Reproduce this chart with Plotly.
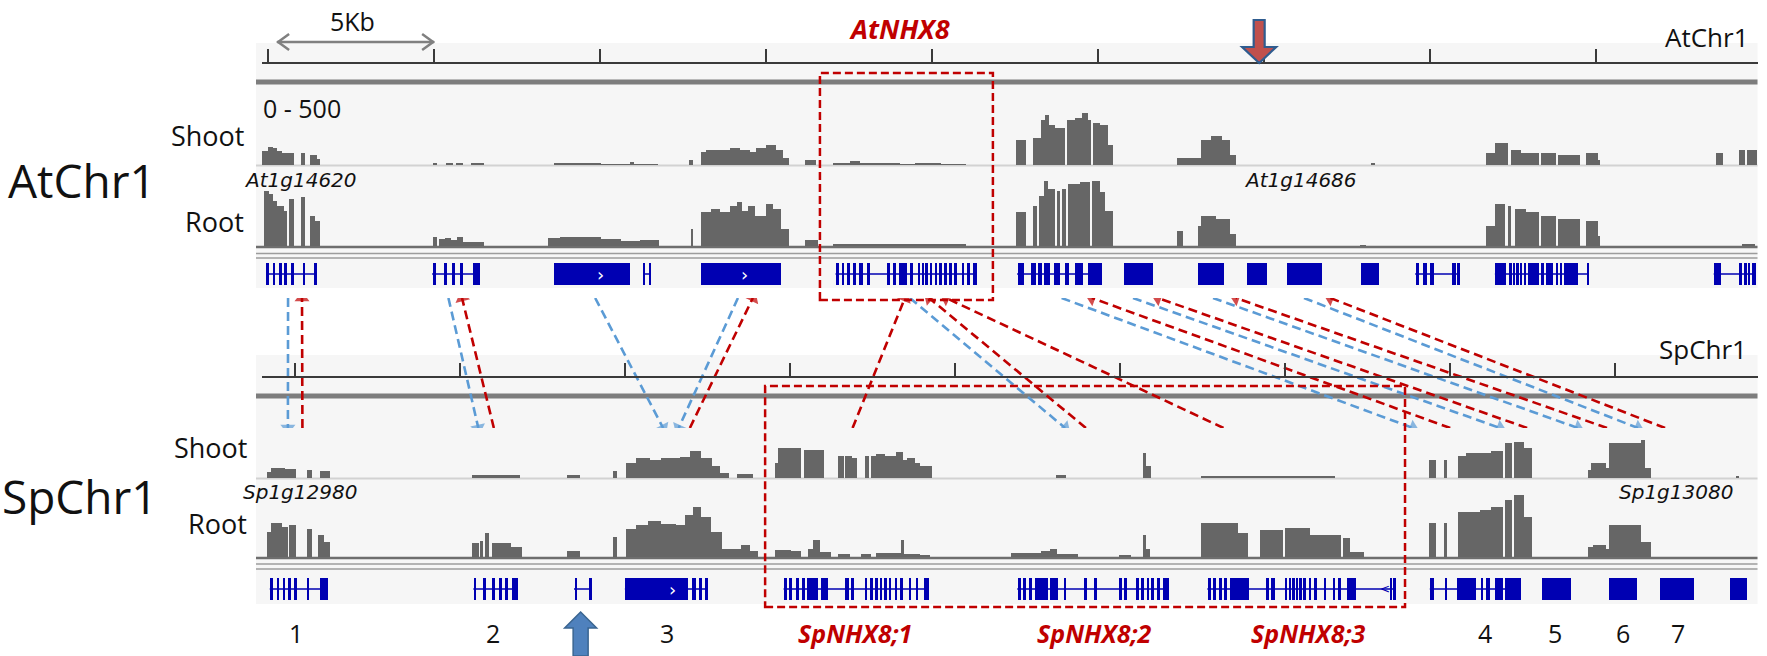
import plotly.graph_objects as go

W, H = 1767, 656

# ------------------------------------------------------------------ data
AT_SPAN = 45.06      # kb shown in the AtChr1 window
SP_SPAN = 45.33      # kb shown in the SpChr1 window
AT_TICK0 = 0.19
SP_TICK0 = 1.0
TICK_STEP = 5.0

# coverage (start kb, end kb, reads; scale 0-500)
at_shoot_cov = [
    (0.00, 0.17, 100), (0.17, 0.32, 130), (0.32, 0.44, 120), (0.44, 0.59, 100), (0.59, 0.77, 85), (0.77, 0.95, 90),
    (1.16, 1.31, 85), (1.46, 1.66, 75), (1.66, 1.76, 45),
    (5.14, 5.26, 20), (5.53, 5.74, 15), (5.83, 6.04, 20), (6.28, 6.70, 14),
    (8.78, 10.20, 14), (9.23, 9.41, 20), (10.20, 11.92, 12), (11.07, 11.19, 25),
    (12.85, 12.97, 40),
    (13.21, 13.36, 95), (13.36, 13.81, 110), (13.81, 14.11, 105), (14.11, 14.41, 120), (14.41, 14.71, 110),
    (14.71, 14.89, 95), (14.89, 15.17, 120), (15.17, 15.47, 140), (15.47, 15.68, 110), (15.68, 15.86, 55),
    (16.37, 16.70, 35),
    (17.21, 17.72, 20), (17.72, 18.02, 28), (18.02, 18.63, 14), (18.63, 19.23, 20), (19.23, 19.68, 12),
    (19.68, 20.44, 18), (20.44, 21.19, 12),
    (22.70, 23.00, 175),
    (23.21, 23.45, 195), (23.45, 23.57, 315), (23.57, 23.69, 350), (23.69, 23.90, 280), (23.90, 24.20, 265),
    (24.26, 24.50, 315), (24.50, 24.71, 335), (24.71, 24.89, 365), (24.89, 24.98, 320), (25.04, 25.25, 295),
    (25.25, 25.49, 280), (25.49, 25.64, 140),
    (27.55, 28.27, 55), (28.27, 28.57, 180), (28.57, 28.93, 205), (28.93, 29.17, 175), (29.17, 29.35, 70),
    (33.39, 33.51, 14),
    (36.88, 37.15, 85), (37.15, 37.52, 155), (37.61, 37.91, 105), (37.91, 38.45, 90), (38.51, 38.99, 85),
    (39.05, 39.71, 75), (39.89, 40.25, 90), (40.25, 40.31, 40),
    (43.78, 44.02, 90), (44.50, 44.68, 105), (44.74, 45.04, 110),
]
at_root_cov = [
    (0.05, 0.20, 390), (0.20, 0.32, 365), (0.32, 0.44, 320), (0.44, 0.65, 280), (0.65, 0.74, 245),
    (0.80, 0.95, 335), (1.16, 1.28, 345), (1.46, 1.61, 215), (1.61, 1.76, 175),
    (5.14, 5.26, 63), (5.32, 5.50, 50), (5.50, 5.68, 56), (5.68, 5.86, 42), (5.86, 6.04, 63), (6.04, 6.70, 28),
    (8.60, 8.99, 56), (8.99, 10.20, 63), (10.20, 10.80, 49), (10.80, 11.40, 35), (11.40, 11.97, 42),
    (12.91, 12.97, 120),
    (13.21, 13.51, 240), (13.51, 13.81, 260), (13.81, 14.11, 240), (14.11, 14.32, 280), (14.32, 14.47, 310),
    (14.47, 14.65, 245), (14.65, 14.86, 280), (14.86, 15.17, 210), (15.17, 15.38, 295), (15.38, 15.62, 265),
    (15.62, 15.86, 125),
    (16.37, 16.76, 42),
    (17.21, 21.19, 20),
    (22.70, 23.00, 240), (23.21, 23.33, 280), (23.39, 23.54, 350), (23.54, 23.66, 460), (23.66, 23.90, 405),
    (23.96, 24.05, 385), (24.11, 24.23, 405), (24.29, 24.65, 440), (24.65, 24.95, 450), (25.01, 25.25, 455),
    (25.25, 25.40, 380), (25.40, 25.64, 245),
    (27.55, 27.73, 105), (28.18, 28.27, 140), (28.27, 28.72, 210), (28.72, 29.17, 195), (29.17, 29.35, 85),
    (33.06, 33.24, 7),
    (36.88, 37.15, 140), (37.15, 37.45, 300), (37.52, 37.61, 285), (37.73, 38.06, 265), (38.06, 38.45, 240),
    (38.51, 38.99, 215), (39.05, 39.71, 195), (39.89, 40.25, 180), (40.25, 40.31, 70),
    (44.59, 44.98, 14),
]
sp_shoot_cov = [
    (0.14, 0.26, 42), (0.26, 0.71, 70), (0.71, 1.02, 63), (1.35, 1.53, 56), (1.77, 2.05, 49),
    (6.35, 7.83, 21),
    (9.23, 9.65, 21),
    (10.65, 10.77, 49),
    (11.02, 11.32, 105), (11.32, 11.77, 140), (11.77, 12.08, 126), (12.08, 12.68, 140), (12.68, 12.98, 147),
    (12.98, 13.29, 190), (13.29, 13.65, 140), (13.65, 13.89, 84), (13.89, 14.14, 35),
    (14.38, 14.89, 28),
    (15.53, 15.65, 105), (15.65, 16.32, 210), (16.41, 17.02, 196), (17.44, 17.62, 154), (17.68, 17.89, 154),
    (17.89, 18.02, 140), (18.26, 18.38, 154), (18.44, 18.59, 154), (18.59, 18.89, 168), (18.89, 19.20, 154),
    (19.20, 19.41, 182), (19.41, 19.53, 126), (19.53, 19.80, 140), (19.80, 19.95, 105), (19.95, 20.29, 84),
    (24.05, 24.35, 21),
    (26.71, 26.80, 175), (26.80, 26.95, 84),
    (28.44, 32.50, 14),
    (35.35, 35.56, 126), (35.83, 35.92, 126), (36.23, 36.47, 154), (36.47, 37.23, 175), (37.23, 37.59, 190),
    (37.65, 37.89, 245), (37.95, 38.23, 252), (38.23, 38.47, 210),
    (40.17, 40.26, 56), (40.26, 40.71, 105), (40.71, 40.83, 70), (40.83, 41.77, 245), (41.77, 41.92, 266),
    (41.92, 42.08, 70),
    (44.65, 44.74, 14),
]
sp_root_cov = [
    (0.14, 0.26, 175), (0.26, 0.62, 238), (0.62, 0.80, 210), (0.83, 1.02, 224), (1.35, 1.50, 196),
    (1.71, 1.89, 154), (1.89, 2.05, 105),
    (6.35, 6.56, 98), (6.62, 6.71, 112), (6.77, 6.89, 168), (6.98, 7.11, 98), (7.11, 7.53, 98), (7.53, 7.89, 70),
    (9.23, 9.65, 42),
    (10.65, 10.77, 140),
    (11.02, 11.32, 196), (11.32, 11.71, 224), (11.71, 12.08, 252), (12.08, 12.53, 231), (12.53, 12.83, 224),
    (12.83, 13.05, 300), (13.05, 13.29, 350), (13.29, 13.59, 280), (13.59, 13.95, 175), (13.95, 14.50, 56),
    (14.50, 14.80, 84), (14.80, 15.02, 42),
    (15.53, 16.02, 49), (16.02, 16.32, 42), (16.53, 16.71, 56), (16.71, 16.92, 119), (16.92, 17.23, 35),
    (17.44, 17.83, 21), (18.14, 18.44, 21), (18.59, 19.35, 28), (19.35, 19.44, 119), (19.44, 19.95, 21),
    (19.95, 20.23, 14),
    (22.71, 23.59, 28), (23.59, 23.89, 42), (23.89, 24.08, 56), (24.08, 24.74, 21),
    (25.98, 26.32, 14), (26.71, 26.80, 160), (26.80, 26.92, 56),
    (28.44, 29.56, 238), (29.56, 29.89, 168), (30.23, 30.95, 189), (31.01, 31.74, 203), (31.74, 32.68, 154),
    (32.77, 32.98, 133), (32.98, 33.38, 35),
    (35.35, 35.56, 238), (35.83, 35.92, 238), (36.23, 36.92, 315), (36.92, 37.23, 330), (37.23, 37.59, 350),
    (37.65, 37.89, 400), (37.95, 38.23, 434), (38.23, 38.47, 280),
    (40.17, 40.32, 70), (40.32, 40.71, 84), (40.71, 40.83, 56), (40.83, 41.77, 224), (41.77, 42.08, 105),
]

# gene models: list of exons (start kb, end kb) per gene
at_genes = [
    [(0.14, 0.20), (0.32, 0.38), (0.50, 0.59), (0.68, 0.74), (0.89, 0.95), (1.22, 1.28), (1.58, 1.67)],
    [(5.14, 5.23), (5.50, 5.56), (5.74, 5.80), (5.95, 6.04), (6.37, 6.58)],
    [(8.78, 11.07)],
    [(11.49, 11.55), (11.67, 11.73)],
    [(13.21, 15.62)],
    [(17.29, 17.37), (17.46, 17.54), (17.63, 17.71), (17.80, 17.89), (17.98, 18.09), (18.21, 18.32),
     (18.84, 18.92), (19.01, 19.09), (19.19, 19.42), (19.53, 19.60), (19.76, 19.82), (19.88, 19.94),
     (19.99, 20.05), (20.11, 20.19), (20.28, 20.34), (20.42, 20.48), (20.57, 20.63), (20.71, 20.77),
     (20.86, 20.92), (21.09, 21.15), (21.26, 21.32), (21.43, 21.55)],
    [(22.76, 22.94), (23.16, 23.30), (23.36, 23.50), (23.55, 23.74), (23.86, 24.03), (24.20, 24.32),
     (24.49, 24.72), (24.89, 25.30)],
    [(25.96, 26.85)],
    [(28.18, 28.98)],
    [(29.68, 30.28)],
    [(30.88, 31.92)],
    [(33.09, 33.64)],
    [(34.75, 34.86), (34.97, 35.08), (35.19, 35.30), (35.84, 35.95), (36.00, 36.09)],
    [(37.15, 37.47), (37.58, 37.64), (37.69, 37.74), (37.80, 37.86), (37.91, 37.96), (38.02, 38.07),
     (38.13, 38.45), (38.51, 38.62), (38.67, 38.89), (39.00, 39.05), (39.11, 39.16), (39.22, 39.65),
     (39.92, 39.98)],
    [(43.74, 43.95), (44.50, 44.58), (44.66, 44.72), (44.77, 44.83), (44.88, 44.99)],
]
sp_genes = [
    [(0.25, 0.33), (0.45, 0.52), (0.63, 0.70), (0.80, 0.87), (0.98, 1.05), (1.35, 1.42), (1.76, 1.99)],
    [(6.42, 6.49), (6.71, 6.78), (6.98, 7.06), (7.18, 7.27), (7.36, 7.45), (7.56, 7.75)],
    [(9.47, 9.55), (9.92, 9.99)],
    [(11.01, 12.92), (13.04, 13.16), (13.25, 13.33), (13.41, 13.51)],
    [(15.82, 15.90), (15.98, 16.05), (16.20, 16.26), (16.37, 16.44), (16.52, 16.86), (16.93, 17.16),
     (17.68, 17.78), (17.85, 17.93), (18.26, 18.34), (18.43, 18.51), (18.58, 18.65), (18.72, 18.79),
     (18.86, 18.93), (19.01, 19.07), (19.18, 19.25), (19.34, 19.42), (19.59, 19.67), (19.82, 19.88),
     (20.06, 20.21)],
    [(22.90, 22.99), (23.07, 23.16), (23.25, 23.34), (23.42, 23.83), (23.89, 24.11), (24.29, 24.36),
     (24.93, 24.99), (25.22, 25.29), (25.97, 26.05), (26.12, 26.20), (26.49, 26.58), (26.66, 26.72),
     (26.81, 26.88), (26.95, 27.03), (27.13, 27.21), (27.30, 27.48)],
    [(28.66, 28.75), (28.82, 28.90), (28.99, 29.08), (29.15, 29.23), (29.32, 29.92), (30.41, 30.50),
     (30.58, 30.68), (31.02, 31.07), (31.12, 31.18), (31.23, 31.29), (31.34, 31.40), (31.45, 31.51),
     (31.56, 31.62), (31.73, 31.78), (31.89, 31.97), (32.17, 32.24), (32.44, 32.52), (32.60, 32.68),
     (32.88, 33.15), (34.19, 34.24), (34.30, 34.36)],
    [(35.40, 35.51), (35.84, 35.92), (36.22, 36.77), (36.93, 37.01), (37.10, 37.21), (37.37, 37.60),
     (37.66, 38.14)],
    [(38.80, 39.67)],
    [(40.82, 41.65)],
    [(42.36, 43.40)],
    [(44.49, 44.99)],
]
at_chevrons = [10.20, 14.56]
sp_chevrons = [12.46]
sp_strand_marks = [34.05]

# synteny links: blue = At -> Sp (At kb, Sp kb), red = Sp -> At (Sp kb, At kb)
blue_links = [(0.80, 0.80), (5.63, 6.57), (10.05, 12.17), (14.35, 12.64), (19.53, 24.35),
              (24.10, 34.89), (26.25, 37.53), (28.66, 39.89), (31.40, 41.71)]
red_links = [(1.24, 1.22), (7.04, 6.04), (12.98, 14.80), (17.91, 19.38), (24.98, 20.11),
             (29.15, 20.62), (36.02, 25.01), (38.35, 27.00), (40.77, 29.35), (42.53, 32.19)]

# labels
sp_gene_numbers = ["1", "2", "3", "4", "5", "6", "7"]
sp_gene_number_pos = [1.05, 7.02, 12.29, 37.08, 39.20, 41.26, 42.93]
sp_nhx_names = ["SpNHX8;1", "SpNHX8;2", "SpNHX8;3"]
sp_nhx_pos = [17.98, 25.23, 31.71]
at_nhx_name, at_nhx_pos = "AtNHX8", 19.23
at_gene_ids = ["At1g14620", "At1g14686"]
at_gene_id_pos = [1.16, 31.28]
sp_gene_ids = ["Sp1g12980", "Sp1g13080"]
sp_gene_id_pos = [1.17, 42.86]
at_box = (16.82, 22.03)
sp_box = (15.26, 34.65)
at_marker_pos = 30.05
sp_marker_pos = 9.67
scale_bar = (0.47, 5.20)
scale_label = "5Kb"
track_range = "0 - 500"

# ------------------------------------------------------------------ styles / geometry (pixels)
GRAY = "#666666"
GENE = "#0000B2"
RED = "#C00000"
BLUE = "#5B9BD5"
TXT = "#111111"
LABEL_FONT = "Open Sans"
ID_FONT = "DejaVu Sans"

X_L, X_R = 261.5, 1757.5
PANEL_L = 256


def fx(px):
    return px / W


def fy(py):
    return 1 - py / H


XDOM = [fx(X_L), fx(X_R)]
TRACK_PX = 71.4

fig = go.Figure()


def cov_trace(cov, xa, ya):
    return go.Bar(
        x=[(s + e) / 2 for s, e, v in cov], y=[v for s, e, v in cov], width=[e - s for s, e, v in cov],
        marker=dict(color=GRAY, line=dict(width=0)), xaxis=xa, yaxis=ya,
        showlegend=False, hoverinfo="skip")


def gene_traces(genes, xa, ya):
    ex = [ex for g in genes for ex in g]
    bars = go.Bar(
        x=[(s + e) / 2 for s, e in ex], y=[1] * len(ex), width=[e - s for s, e in ex], base=0,
        marker=dict(color=GENE, line=dict(width=0)), xaxis=xa, yaxis=ya, showlegend=False, hoverinfo="skip")
    lx, ly = [], []
    for g in genes:
        if len(g) > 1:
            lx += [g[0][0], g[-1][1], None]
            ly += [0.5, 0.5, None]
    line = go.Scatter(x=lx, y=ly, mode="lines", line=dict(color=GENE, width=1.6),
                      xaxis=xa, yaxis=ya, showlegend=False, hoverinfo="skip")
    return [line, bars]


fig.add_trace(cov_trace(at_shoot_cov, "x", "y"))
fig.add_trace(cov_trace(at_root_cov, "x", "y2"))
for t in gene_traces(at_genes, "x", "y3"):
    fig.add_trace(t)
fig.add_trace(cov_trace(sp_shoot_cov, "x2", "y4"))
fig.add_trace(cov_trace(sp_root_cov, "x2", "y5"))
for t in gene_traces(sp_genes, "x2", "y6"):
    fig.add_trace(t)

# rulers need a subplot to be drawn
fig.add_trace(go.Scatter(x=[None], y=[None], xaxis="x4", yaxis="y7", showlegend=False))
fig.add_trace(go.Scatter(x=[None], y=[None], xaxis="x5", yaxis="y7", showlegend=False))

# synteny arrows (connector panel: y=1 At side, y=0 Sp side)
for at_kb, sp_kb in blue_links:
    fig.add_trace(go.Scatter(
        x=[at_kb / AT_SPAN, sp_kb / SP_SPAN], y=[1, 0], mode="lines+markers",
        line=dict(color=BLUE, width=2.6, dash="9px,5px"),
        marker=dict(symbol="triangle-up", size=[0, 13], color=BLUE, angleref="previous", line=dict(width=0)),
        xaxis="x3", yaxis="y7", showlegend=False, hoverinfo="skip"))
for sp_kb, at_kb in red_links:
    fig.add_trace(go.Scatter(
        x=[sp_kb / SP_SPAN, at_kb / AT_SPAN], y=[0, 1], mode="lines+markers",
        line=dict(color=RED, width=2.6, dash="9px,5px"),
        marker=dict(symbol="triangle-up", size=[0, 13], color=RED, angleref="previous", line=dict(width=0)),
        xaxis="x3", yaxis="y7", showlegend=False, hoverinfo="skip"))

hidden = dict(visible=False, showgrid=False, zeroline=False, fixedrange=True)


def ydom(bottom_px, top_px):
    return [fy(bottom_px), fy(top_px)]


ruler = dict(showline=True, linecolor="#3a3a3a", linewidth=2, ticks="outside", ticklen=13, tickwidth=1.5,
             tickcolor="#3a3a3a", showticklabels=False, showgrid=False, zeroline=False, side="top",
             anchor="free", dtick=TICK_STEP, tickmode="linear")

fig.update_layout(
    width=W, height=H, margin=dict(l=0, r=0, t=0, b=0),
    paper_bgcolor="white", plot_bgcolor="rgba(0,0,0,0)",
    barmode="overlay", bargap=0, showlegend=False,
    xaxis=dict(domain=XDOM, range=[0, AT_SPAN], anchor="y", **hidden),
    xaxis2=dict(domain=XDOM, range=[0, SP_SPAN], anchor="y4", **hidden),
    xaxis3=dict(domain=XDOM, range=[0, 1], anchor="y7", **hidden),
    xaxis4=dict(domain=XDOM, range=[0, AT_SPAN], position=fy(63), tick0=AT_TICK0, **ruler),
    xaxis5=dict(domain=XDOM, range=[0, SP_SPAN], position=fy(377), tick0=SP_TICK0, **ruler),
    yaxis=dict(domain=ydom(165, 165 - TRACK_PX), range=[0, 500], anchor="x", **hidden),
    yaxis2=dict(domain=ydom(246, 246 - TRACK_PX), range=[0, 500], anchor="x", **hidden),
    yaxis3=dict(domain=ydom(285, 263), range=[0, 1], anchor="x", **hidden),
    yaxis4=dict(domain=ydom(478, 478 - TRACK_PX), range=[0, 500], anchor="x2", **hidden),
    yaxis5=dict(domain=ydom(557, 557 - TRACK_PX), range=[0, 500], anchor="x2", **hidden),
    yaxis6=dict(domain=ydom(600, 578), range=[0, 1], anchor="x2", **hidden),
    yaxis7=dict(domain=ydom(428, 298), range=[0, 1], anchor="x3", **hidden),
)

shapes = []


def hline(y, color, width, x0=PANEL_L, x1=X_R):
    shapes.append(dict(type="line", xref="paper", yref="paper", x0=fx(x0), x1=fx(x1), y0=fy(y), y1=fy(y),
                       line=dict(color=color, width=width), layer="below"))


# panel backgrounds
for top, bot in [(43, 288), (355, 604)]:
    shapes.append(dict(type="rect", xref="paper", yref="paper", x0=fx(PANEL_L), x1=fx(X_R), y0=fy(bot), y1=fy(top),
                       fillcolor="#F6F6F6", line=dict(width=0), layer="below"))
# track separators
hline(82, "#7D7D7D", 5)
hline(165.5, "#D2D2D2", 2)
hline(247, "#6E6E6E", 2.5)
hline(253.5, "#9C9C9C", 1.5)
hline(258, "#9C9C9C", 1.5)
hline(396, "#7D7D7D", 5)
hline(478.5, "#D2D2D2", 2)
hline(558, "#6E6E6E", 2.5)
hline(564, "#9C9C9C", 1.5)
hline(569, "#9C9C9C", 1.5)

# red dashed boxes
shapes.append(dict(type="rect", xref="x", yref="paper", x0=at_box[0], x1=at_box[1], y0=fy(300), y1=fy(73),
                   line=dict(color=RED, width=2.5, dash="8px,4px"), fillcolor="rgba(0,0,0,0)", layer="above"))
shapes.append(dict(type="rect", xref="x2", yref="paper", x0=sp_box[0], x1=sp_box[1], y0=fy(607), y1=fy(386),
                   line=dict(color=RED, width=2.5, dash="8px,4px"), fillcolor="rgba(0,0,0,0)", layer="above"))

# scale bar (5Kb double arrow)
shapes.append(dict(type="line", xref="x", yref="paper", x0=scale_bar[0], x1=scale_bar[1], y0=fy(42), y1=fy(42),
                   line=dict(color="#808080", width=2.5)))
shapes.append(dict(type="path", xref="x", yref="paper", xsizemode="pixel", ysizemode="pixel",
                   xanchor=scale_bar[0], yanchor=fy(42), path="M 12,8 L 1,0 L 12,-8",
                   line=dict(color="#808080", width=2.5)))
shapes.append(dict(type="path", xref="x", yref="paper", xsizemode="pixel", ysizemode="pixel",
                   xanchor=scale_bar[1], yanchor=fy(42), path="M -12,8 L -1,0 L -12,-8",
                   line=dict(color="#808080", width=2.5)))


# block arrows marking positions (x in pixels around the genomic anchor, y in paper units)
def block_arrow(xref, anchor, tip, head_end, tail, head_w, shaft_w):
    pts = [(0, tip), (-head_w, head_end), (-shaft_w, head_end), (-shaft_w, tail), (shaft_w, tail),
           (shaft_w, head_end), (head_w, head_end)]
    return "M " + " L ".join(f"{px},{fy(py):.5f}" for px, py in pts) + " Z"


shapes.append(dict(type="path", xref="x", yref="paper", xsizemode="pixel", xanchor=at_marker_pos,
                   path=block_arrow("x", at_marker_pos, 63, 47, 20, 17, 5.5),
                   fillcolor="#C0504D", line=dict(color="#2F5C8F", width=2.2), layer="above"))
shapes.append(dict(type="path", xref="x2", yref="paper", xsizemode="pixel", xanchor=sp_marker_pos,
                   path=block_arrow("x2", sp_marker_pos, 612, 628, 656, 16, 7.5),
                   fillcolor="#4F81BD", line=dict(color="#3A6591", width=1.5), layer="above"))

fig.update_layout(shapes=shapes)

ann = []


def text(t, x, y, xref="paper", size=25, color=TXT, family=LABEL_FONT, xanchor="center", style="normal",
         weight="normal"):
    ann.append(dict(text=t, x=x, y=y, xref=xref, yref="paper", showarrow=False, xanchor=xanchor, yanchor="middle",
                    font=dict(size=size, color=color, family=family, style=style, weight=weight)))


text(scale_label, fx(352), fy(21), size=25)
text(at_nhx_name, at_nhx_pos, fy(28), xref="x", size=27, color=RED, style="italic", weight="bold")
text("AtChr1", fx(1751), fy(37), size=26, xanchor="right")
text("SpChr1", fx(1749), fy(349), size=26, xanchor="right")
text("AtChr1", fx(82), fy(180), size=46)
text("SpChr1", fx(80), fy(496), size=46)
text("Shoot", fx(246), fy(136), xanchor="right", size=27)
text("Root", fx(246), fy(222), xanchor="right", size=27)
text("Shoot", fx(249), fy(447), xanchor="right", size=27)
text("Root", fx(249), fy(523), xanchor="right", size=27)
text(track_range, fx(261), fy(108), xanchor="left", size=25)
for t, p in zip(at_gene_ids, at_gene_id_pos):
    text(t, p, fy(180), xref="x", size=20, family=ID_FONT, style="italic")
for t, p in zip(sp_gene_ids, sp_gene_id_pos):
    text(t, p, fy(492), xref="x2", size=20, family=ID_FONT, style="italic")
for t, p in zip(sp_gene_numbers, sp_gene_number_pos):
    text(t, p, fy(633), xref="x2", size=25)
for t, p in zip(sp_nhx_names, sp_nhx_pos):
    text(t, p, fy(633), xref="x2", size=25, color=RED, style="italic", weight="bold")

for p in at_chevrons:
    ann.append(dict(text="›", x=p, y=0.5, xref="x", yref="y3", showarrow=False,
                    font=dict(size=18, color="white", family="DejaVu Sans")))
for p in sp_chevrons:
    ann.append(dict(text="›", x=p, y=0.5, xref="x2", yref="y6", showarrow=False,
                    font=dict(size=18, color="white", family="DejaVu Sans")))
for p in sp_strand_marks:
    ann.append(dict(text="<", x=p, y=0.5, xref="x2", yref="y6", showarrow=False,
                    font=dict(size=12, color=GENE, family="DejaVu Sans")))

fig.update_layout(annotations=ann)

fig.write_html("out.html", config={"displayModeBar": False},
               post_script="document.body.style.margin='0px';document.body.style.overflow='hidden';")
